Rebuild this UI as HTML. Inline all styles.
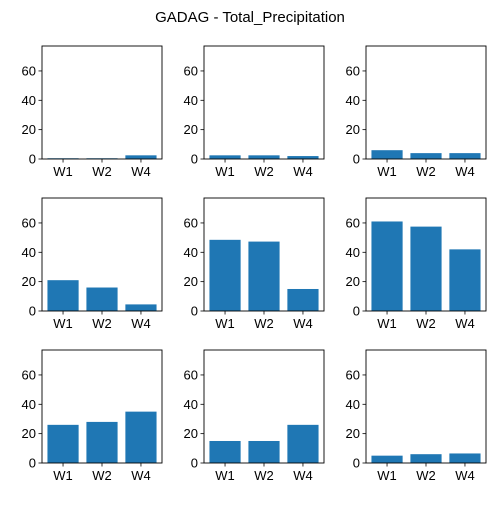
<!DOCTYPE html>
<html><head><meta charset="utf-8"><style>
body{margin:0;background:#fff}
svg text{font-family:"Liberation Sans","DejaVu Sans",sans-serif;fill:#000}
</style></head><body>
<svg id="fig" width="500" height="500" viewBox="0 0 500 500">
<rect width="500" height="500" fill="#fff"/>
<text x="250" y="22" font-size="15" text-anchor="middle">GADAG - Total_Precipitation</text>
</svg>
<script>
const categories = ["W1","W2","W4"];
const panelValues = [
  [0.5,0.5,2.5],[2.5,2.5,2],[6,4,4],
  [21,16,4.5],[48.5,47.3,15],[61,57.5,42],
  [26,28,35],[15,15,26],[5,6,6.5]
];
const yTicks = [0,20,40,60];
const yMax = 77;
const svg = document.getElementById('fig');
const NS = 'http://www.w3.org/2000/svg';
const lefts = [42,204,366], tops = [46,198,350], W = 120, H = 113;
const xMin = -0.54, xMax = 2.54;
function mk(tag, attrs, parent){const e=document.createElementNS(NS,tag);for(const k in attrs)e.setAttribute(k,attrs[k]);parent.appendChild(e);return e;}
panelValues.forEach((vals, i) => {
  const x0 = lefts[i%3], y0 = tops[Math.floor(i/3)];
  const g = mk('g', {}, svg);
  
  
  const xs = c => x0 + (c - xMin) / (xMax - xMin) * W;
  const ys = v => y0 + H - v / yMax * H;
  vals.forEach((v, c) => {
    const b = mk('rect', {x: xs(c-0.4), y: ys(v), width: xs(c+0.4)-xs(c-0.4), height: y0+H-ys(v), fill:'#1f77b4'}, g);
    
    
  });
  const frame = mk('rect', {x:x0, y:y0, width:W, height:H, fill:'none', stroke:'#000', 'stroke-width':0.9}, g);
  
  
  yTicks.forEach(t => {
    const y = ys(t);
    mk('line', {x1:x0-3.5, x2:x0, y1:y, y2:y, stroke:'#000', 'stroke-width':0.8}, g);
    const tx = mk('text', {x:x0-6, y:y+4.5, 'font-size':13, 'text-anchor':'end'}, g);
    tx.textContent = t;
    
    
  });
  categories.forEach((c, k) => {
    const x = xs(k);
    mk('line', {x1:x, x2:x, y1:y0+H, y2:y0+H+3.5, stroke:'#000', 'stroke-width':0.8}, g);
    const tx = mk('text', {x:x, y:y0+H+17, 'font-size':13, 'text-anchor':'middle'}, g);
    tx.textContent = c;
    
    
  });
});
</script>
</body></html>
